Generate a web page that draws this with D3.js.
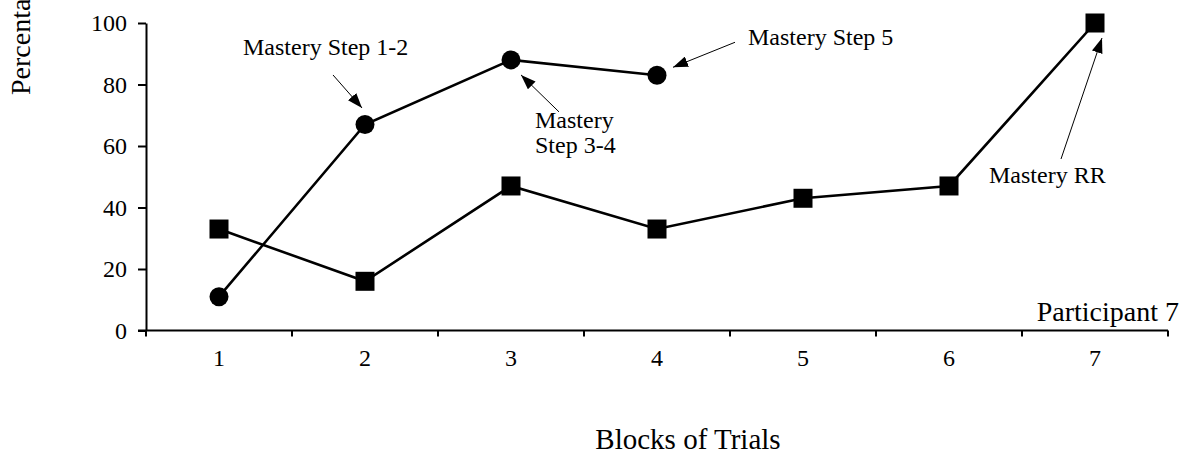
<!DOCTYPE html>
<html>
<head>
<meta charset="utf-8">
<script src="https://cdn.jsdelivr.net/npm/d3@7"></script>
<style>
  html, body { margin: 0; padding: 0; background: #fff; }
  svg { display: block; }
  text { font-family: "Liberation Serif", "Times New Roman", serif; fill: #000; }
</style>
</head>
<body>
<svg id="chart" width="1195" height="457"></svg>
<script>
// ---- data ----
const blocks = [1, 2, 3, 4, 5, 6, 7];
const masteryBlocks = [1, 2, 3, 4];
const masteryValues = [11, 67, 88, 83];      // circle series
const squareValues = [33, 16, 47, 33, 43, 47, 100]; // square series
const yTickValues = [0, 20, 40, 60, 80, 100];
const xTitle = "Blocks of Trials";
const yTitle = "Percentage Correct";
const panelLabel = "Participant 7";
const annotationTexts = [["Mastery Step 1-2"], ["Mastery", "Step 3-4"], ["Mastery Step 5"], ["Mastery RR"]];
const annotationTargets = [[2, 67], [3, 88], [4, 83], [7, 100]];

// ---- layout ----
const svg = d3.select("#chart");
const plotLeft = 146, plotRight = 1168, plotTop = 23, plotBottom = 330.5;
const serif = "'Liberation Serif', 'Times New Roman', serif";

const x = d3.scaleBand().domain(blocks).range([plotLeft, plotRight]).padding(0);
const cx = d => x(d) + x.bandwidth() / 2;
const y = d3.scaleLinear().domain([0, 100]).range([plotBottom, plotTop]);

svg.append("defs").append("marker")
  .attr("id", "arrow")
  .attr("viewBox", "0 0 15 11")
  .attr("refX", 15).attr("refY", 5.5)
  .attr("markerWidth", 15).attr("markerHeight", 11)
  .attr("markerUnits", "userSpaceOnUse")
  .attr("orient", "auto")
  .append("path").attr("d", "M0,0 L15,5.5 L0,11 Z").attr("fill", "#000");

// y axis
const yAxis = svg.append("g")
  .attr("transform", `translate(${plotLeft},0)`)
  .call(d3.axisLeft(y).tickValues(yTickValues).tickSize(8).tickSizeOuter(0).tickPadding(11));
yAxis.select(".domain").attr("stroke", "#000").attr("stroke-width", 2);
yAxis.selectAll(".tick line").attr("stroke", "#000").attr("stroke-width", 2);
yAxis.selectAll(".tick text").style("font-size", "24px").style("font-family", serif);

// x axis: line + ticks at band boundaries + labels at centers
const boundaries = blocks.map(b => x(b)).concat([x(blocks[blocks.length - 1]) + x.bandwidth()]);
svg.append("line")
  .attr("x1", plotLeft - 8).attr("x2", plotRight)
  .attr("y1", plotBottom).attr("y2", plotBottom)
  .attr("stroke", "#000").attr("stroke-width", 2);
svg.selectAll(".xtick").data(boundaries).enter().append("line")
  .attr("class", "xtick")
  .attr("x1", d => d).attr("x2", d => d)
  .attr("y1", plotBottom).attr("y2", plotBottom + 6)
  .attr("stroke", "#000").attr("stroke-width", 2);
svg.selectAll(".xlabel").data(blocks).enter().append("text")
  .attr("class", "xlabel")
  .attr("x", d => cx(d)).attr("y", 366)
  .attr("text-anchor", "middle")
  .style("font-size", "24px").style("font-family", serif)
  .text(d => d);

// titles
svg.append("text")
  .attr("x", 688).attr("y", 449)
  .attr("text-anchor", "middle")
  .style("font-size", "29px").style("font-family", serif)
  .text(xTitle);
svg.append("text")
  .attr("transform", "translate(30,95) rotate(-90)")
  .attr("text-anchor", "start")
  .style("font-size", "28px").style("font-family", serif)
  .text(yTitle);
svg.append("text")
  .attr("x", 1179).attr("y", 321)
  .attr("text-anchor", "end")
  .style("font-size", "28px").style("font-family", serif)
  .text(panelLabel);

// lines
const squarePts = blocks.map((b, i) => [cx(b), y(squareValues[i])]);
const masteryPts = masteryBlocks.map((b, i) => [cx(b), y(masteryValues[i])]);
const line = d3.line();
svg.append("path").attr("d", line(squarePts))
  .attr("fill", "none").attr("stroke", "#000").attr("stroke-width", 2.6);
svg.append("path").attr("d", line(masteryPts))
  .attr("fill", "none").attr("stroke", "#000").attr("stroke-width", 2.6);

// markers
const sq = 19;
svg.selectAll(".sq").data(squarePts).enter().append("rect")
  .attr("x", d => d[0] - sq / 2).attr("y", d => d[1] - sq / 2)
  .attr("width", sq).attr("height", sq).attr("fill", "#000");
svg.selectAll(".dot").data(masteryPts).enter().append("circle")
  .attr("cx", d => d[0]).attr("cy", d => d[1]).attr("r", 9.5).attr("fill", "#000");

// annotations (offsets relative to targeted point)
const annoLayout = [
  { text: [-122, -69.5], from: [-32, -49.5], to: [-3, -16.5] },
  { text: [24, 68], from: [48, 52], to: [10, 15] },
  { text: [91, -30], from: [78, -33], to: [16, -8] },
  { text: [-106, 160], from: [-34, 136], to: [7, 15] }
];
annotationTargets.forEach((t, i) => {
  const px = cx(t[0]), py = y(t[1]);
  const L = annoLayout[i];
  svg.append("line")
    .attr("x1", px + L.from[0]).attr("y1", py + L.from[1])
    .attr("x2", px + L.to[0]).attr("y2", py + L.to[1])
    .attr("stroke", "#000").attr("stroke-width", 1)
    .attr("marker-end", "url(#arrow)");
  const txt = svg.append("text")
    .attr("x", px + L.text[0]).attr("y", py + L.text[1])
    .style("font-size", "24px").style("font-family", serif);
  annotationTexts[i].forEach((s, j) => {
    txt.append("tspan").attr("x", px + L.text[0]).attr("dy", j === 0 ? 0 : 25).text(s);
  });
});
</script>
</body>
</html>
